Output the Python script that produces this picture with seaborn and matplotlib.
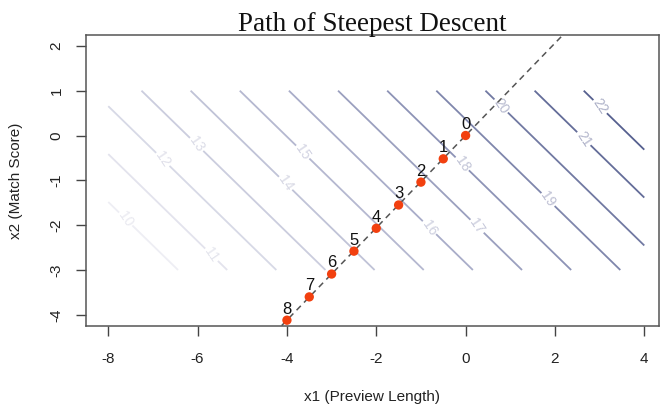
import numpy as np
import pandas as pd
import matplotlib
matplotlib.use("Agg")
import matplotlib.pyplot as plt
import seaborn as sns
from matplotlib.colors import LinearSegmentedColormap, to_rgb

# ---- data ----
# fitted first-order model: y = b0 + b1*x1 + b2*x2
b0 = 18.66
b1 = 0.909
b2 = 0.936
contour_levels = [10, 11, 12, 13, 14, 15, 16, 17, 18, 19, 20, 21, 22]
grid_x1_range = [-8, 4]
grid_x2_range = [-3, 1]

step = [0, 1, 2, 3, 4, 5, 6, 7, 8]
path_x1 = [0.0, -0.5, -1.0, -1.5, -2.0, -2.5, -3.0, -3.5, -4.0]
path_x2 = [0.0, -0.52, -1.04, -1.55, -2.07, -2.58, -3.09, -3.60, -4.12]

x_ticks = [-8, -6, -4, -2, 0, 2, 4]
y_ticks = [-4, -3, -2, -1, 0, 1, 2]

# label anchor positions for contour labels (layout)
label_pos = [(-7.67, -1.89), (-5.71, -2.67), (-6.84, -0.56), (-6.07, -0.22),
             (-4.04, -1.07), (-3.67, -0.38), (-0.84, -2.07), (0.22, -2.04),
             (-0.16, -0.67), (1.82, -1.44), (0.71, 0.62), (2.56, -0.11),
             (2.96, 0.62)]

df = pd.DataFrame({"step": step, "x1": path_x1, "x2": path_x2})

# ---- plot ----
sns.set_style("white")
plt.rcParams["font.family"] = ["Liberation Sans", "DejaVu Sans"]

fig = plt.figure(figsize=(6.61, 4.08), dpi=100)
ax = fig.add_axes([0.130, 0.202, 0.867, 0.712])

g1 = np.linspace(grid_x1_range[0], grid_x1_range[1], 241)
g2 = np.linspace(grid_x2_range[0], grid_x2_range[1], 81)
G1, G2 = np.meshgrid(g1, g2)
Z = b0 + b1 * G1 + b2 * G2

cmap = LinearSegmentedColormap.from_list("slate", ["#eeeef4", "#a9adc9", "#56608f"])
n = len(contour_levels)
line_cols = [cmap(i / (n - 1)) for i in range(n)]
cs = ax.contour(G1, G2, Z, levels=contour_levels, colors=line_cols, linewidths=1.3)
lab_cols = []
for c in line_cols:
    r, gg, b = to_rgb(c)
    lab_cols.append((r * 0.4 + 0.6 * 0.9, gg * 0.4 + 0.6 * 0.9, b * 0.4 + 0.6 * 0.93))
labels = ax.clabel(cs, inline=True, fontsize=10, manual=label_pos, inline_spacing=5)
for t in labels:
    try:
        lv = float(t.get_text())
        t.set_color(lab_cols[contour_levels.index(int(round(lv)))])
    except Exception:
        pass

# steepest-descent direction line
ax.axline((path_x1[0], path_x2[0]), slope=b2 / b1, color="#555555",
          linestyle=(0, (4, 3)), linewidth=1.1, zorder=3)

sns.scatterplot(data=df, x="x1", y="x2", color="#f2400f", s=45,
                edgecolor="none", ax=ax, zorder=4, legend=False)
for s, a, b in zip(step, path_x1, path_x2):
    ax.text(a, b + 0.08, str(s), ha="center", va="bottom", fontsize=12,
            color="#111111", zorder=5)

ax.set_xlim(-8.5, 4.33)
ax.set_ylim(-4.24, 2.24)
ax.set_xticks(x_ticks)
ax.set_yticks(y_ticks)
ax.set_xticklabels([str(v) for v in x_ticks])
ax.set_yticklabels([str(v) for v in y_ticks], rotation=90, va="center")
ax.tick_params(axis="x", pad=12)
ax.tick_params(axis="y", pad=9)
ax.tick_params(axis="both", direction="out", length=7, width=1, color="#444444",
               labelsize=11, labelcolor="#222222", bottom=True, left=True)
for sp in ax.spines.values():
    sp.set_color("#555555")
    sp.set_linewidth(1.1)

ax.set_xlabel("x1 (Preview Length)", fontsize=11, color="#222222", labelpad=17)
ax.set_ylabel("x2 (Match Score)", fontsize=11, color="#222222", labelpad=19)
ax.set_title("Path of Steepest Descent", fontsize=19.5,
             family=["Liberation Serif", "DejaVu Serif"], color="#111111", pad=3)

fig.savefig("out.png", dpi=100)
